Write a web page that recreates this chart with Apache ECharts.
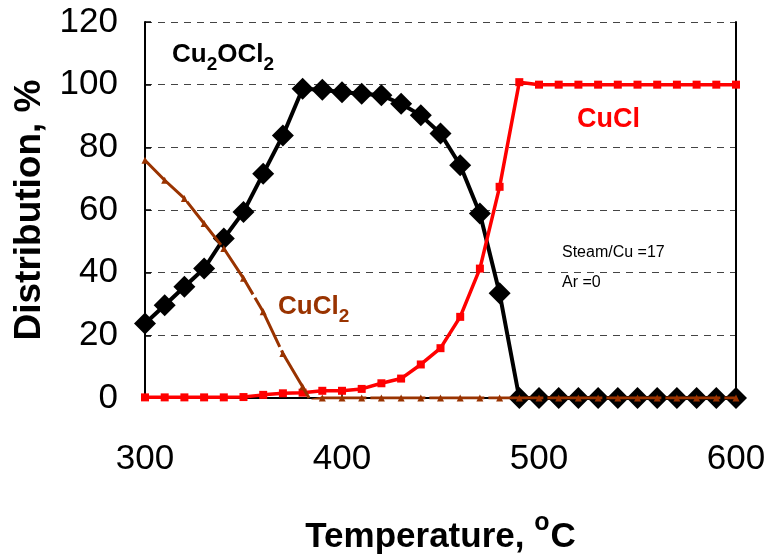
<!DOCTYPE html>
<html>
<head>
<meta charset="utf-8">
<script src="https://cdn.jsdelivr.net/npm/echarts@6/dist/echarts.min.js"></script>
<style>
  html, body { margin: 0; padding: 0; background: #fff; }
  #chart { width: 766px; height: 559px; }
</style>
</head>
<body>
<div id="chart"></div>
<script>
const temps = [300, 310, 320, 330, 340, 350, 360, 370, 380, 390, 400, 410, 420, 430, 440, 450,
  460, 470, 480, 490, 500, 510, 520, 530, 540, 550, 560, 570, 580, 590, 600];

const cu2ocl2 = [23.8, 29.6, 35.5, 41.3, 50.9, 59.4, 71.6, 83.8, 98.7, 98.4, 97.6, 97.1, 96.6, 93.9, 90.2, 84.4,
  74.3, 58.9, 33.4, 0, 0, 0, 0, 0, 0, 0, 0, 0, 0, 0, 0];

const cucl = [0.2, 0.2, 0.2, 0.2, 0.2, 0.3, 1.0, 1.5, 1.7, 2.3, 2.3, 2.9, 4.7, 6.2, 10.7, 15.9,
  25.9, 41.3, 67.4, 100.8, 100, 100, 100, 100, 100, 100, 100, 100, 100, 100, 100];

const cucl2Temps = [300, 310, 320, 330, 340, 350, 360, 370, 380, 384, 390, 400, 410, 420, 430, 440, 450,
  460, 470, 480, 490, 500, 510, 520, 530, 540, 550, 560, 570, 580, 590, 600];
const cucl2 = [75.9, 69.5, 63.7, 55.7, 47.7, 38.2, 27.5, 14.2, 3.6, -0.8, 0, 0, 0, 0, 0, 0, 0,
  0, 0, 0, 0, 0, 0, 0, 0, 0, 0, 0, 0, 0, 0, 0];

const xTicks = [300, 400, 500, 600];
const yTicks = [0, 20, 40, 60, 80, 100, 120];

const FONT = '"Liberation Sans", Arial, sans-serif';
const BROWN = "#993300";

const chart = echarts.init(document.getElementById("chart"), null, { renderer: "canvas" });

const pairs = (xs, ys) => xs.map((x, i) => [x, ys[i]]);

const option = {
  backgroundColor: "#fff",
  animation: false,
  grid: { left: 145, right: 30, top: 22, bottom: 161, containLabel: false, outerBoundsMode: "none" },
  xAxis: [
    {
      type: "value",
      min: xTicks[0],
      max: xTicks[xTicks.length - 1],
      interval: 100,
      name: "{t|Temperature, }{sup|o}{t|C}",
      nameLocation: "middle",
      nameGap: 113,
      nameTextStyle: {
        rich: {
          t: { fontFamily: FONT, fontSize: 35, fontWeight: "bold", color: "#000", verticalAlign: "bottom" },
          sup: { fontFamily: FONT, fontSize: 25, fontWeight: "bold", color: "#000", verticalAlign: "bottom", padding: [0, 1, 19, 0] },
        },
      },
      axisLine: { show: true, lineStyle: { color: "#000", width: 2 } },
      axisTick: { show: true, inside: true, length: 6, lineStyle: { color: "#000", width: 1.5 } },
      axisLabel: { fontFamily: FONT, fontSize: 35, color: "#000", margin: 44 },
      splitLine: { show: false },
    },
    {
      type: "value",
      position: "top",
      min: xTicks[0],
      max: xTicks[xTicks.length - 1],
      axisLine: { show: true, lineStyle: { color: "#000", width: 2 } },
      axisTick: { show: false },
      axisLabel: { show: false },
      splitLine: { show: false },
    },
  ],
  yAxis: [
    {
      type: "value",
      min: yTicks[0],
      max: yTicks[yTicks.length - 1],
      interval: 20,
      name: "Distribution, %",
      nameLocation: "middle",
      nameGap: 95,
      nameTextStyle: { fontFamily: FONT, fontSize: 37, fontWeight: "bold", color: "#000" },
      axisLine: { show: true, lineStyle: { color: "#000", width: 2 } },
      axisTick: { show: true, inside: true, length: 6, lineStyle: { color: "#000", width: 1.5 } },
      axisLabel: { fontFamily: FONT, fontSize: 35, color: "#000", margin: 27 },
      splitLine: { show: true, lineStyle: { color: "#444", type: [7, 6], width: 1 } },
    },
    {
      type: "value",
      position: "right",
      min: yTicks[0],
      max: yTicks[yTicks.length - 1],
      axisLine: { show: true, lineStyle: { color: "#000", width: 2 } },
      axisTick: { show: false },
      axisLabel: { show: false },
      splitLine: { show: false },
    },
  ],
  series: [
    {
      name: "Cu2OCl2",
      type: "line",
      data: pairs(temps, cu2ocl2),
      symbol: "diamond",
      symbolSize: [22, 22],
      lineStyle: { color: "#000", width: 4 },
      itemStyle: { color: "#000" },
      z: 2,
    },
    {
      name: "CuCl",
      type: "line",
      data: pairs(temps, cucl),
      symbol: "rect",
      symbolSize: 8,
      lineStyle: { color: "#ff0000", width: 3.5 },
      itemStyle: { color: "#ff0000" },
      z: 3,
    },
    {
      name: "CuCl2",
      type: "line",
      data: pairs(cucl2Temps, cucl2),
      symbol: "triangle",
      symbolSize: 7,
      lineStyle: { color: BROWN, width: 3, type: [55, 4] },
      itemStyle: { color: BROWN },
      z: 4,
    },
  ],
  graphic: [
    {
      type: "text",
      left: 172,
      top: 42,
      style: {
        text: "{a|Cu}{s|2}{a|OCl}{s|2}",
        rich: {
          a: { fontFamily: FONT, fontSize: 26, fontWeight: "bold", fill: "#000", verticalAlign: "bottom", padding: [0, 0, 6, 0] },
          s: { fontFamily: FONT, fontSize: 19, fontWeight: "bold", fill: "#000", verticalAlign: "bottom" },
        },
      },
    },
    {
      type: "text",
      left: 577,
      top: 106,
      style: { text: "CuCl", fontFamily: FONT, fontSize: 27, fontWeight: "bold", fill: "#ff0000" },
    },
    {
      type: "text",
      left: 278,
      top: 294,
      style: {
        text: "{a|CuCl}{s|2}",
        rich: {
          a: { fontFamily: FONT, fontSize: 26, fontWeight: "bold", fill: BROWN, verticalAlign: "bottom", padding: [0, 0, 6, 0] },
          s: { fontFamily: FONT, fontSize: 19, fontWeight: "bold", fill: BROWN, verticalAlign: "bottom" },
        },
      },
    },
    {
      type: "text",
      left: 562,
      top: 245,
      style: { text: "Steam/Cu =17", fontFamily: FONT, fontSize: 16, fill: "#000" },
    },
    {
      type: "text",
      left: 562,
      top: 275,
      style: { text: "Ar =0", fontFamily: FONT, fontSize: 16, fill: "#000" },
    },
  ],
};

chart.setOption(option);
</script>
</body>
</html>
